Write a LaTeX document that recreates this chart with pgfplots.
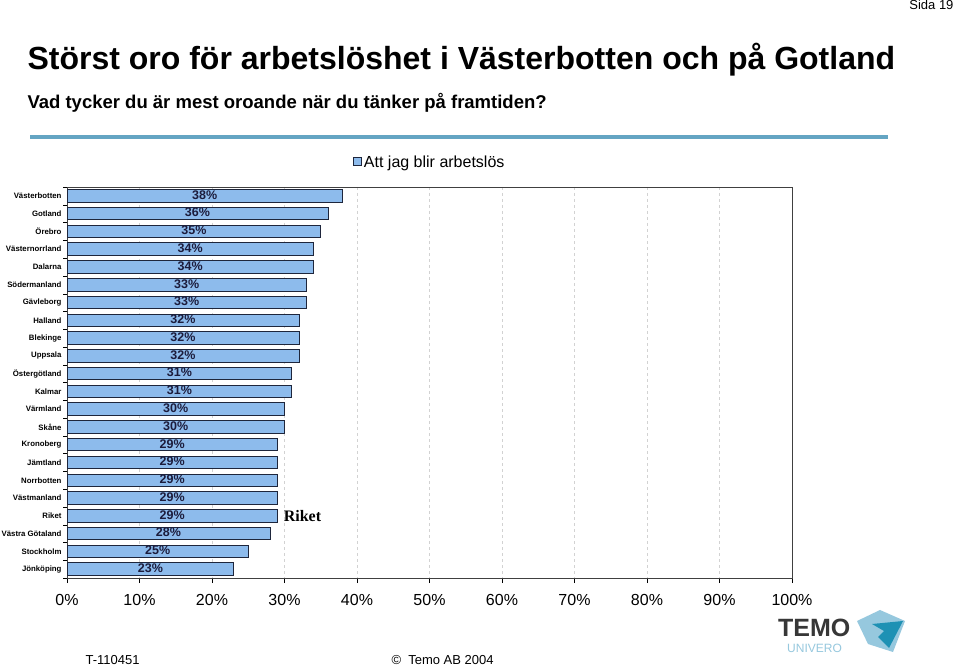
\documentclass[border=0pt]{standalone}
\usepackage{pgfplots}
\pgfplotsset{compat=1.18}
\usepackage{pgfplotstable}
\usepackage{fontspec}
\setmainfont{Liberation Sans}
\newfontfamily\serif{Liberation Serif}

\definecolor{barblue}{RGB}{141,187,236}
\definecolor{baredge}{RGB}{30,38,60}
\definecolor{labelnavy}{RGB}{28,28,60}
\definecolor{rule}{RGB}{100,165,195}
\definecolor{gridgray}{RGB}{210,210,210}
\definecolor{temogray}{RGB}{55,55,55}
\definecolor{temolight}{RGB}{150,200,222}
\definecolor{temodark}{RGB}{30,145,180}

% idx 0 = top row
\pgfplotstableread{
idx v
0  38
1  36
2  35
3  34
4  34
5  33
6  33
7  32
8  32
9  32
10 31
11 31
12 30
13 30
14 29
15 29
16 29
17 29
18 29
19 28
20 25
21 23
}\oro

\begin{document}
\begin{tikzpicture}[x=1pt,y=1pt]
\path[use as bounding box,fill=white] (0,0) rectangle (960,666);

% header
\node[anchor=east,font=\fontsize{13}{15}\selectfont] at (957,661) {Sida 19};
\node[anchor=west,font=\fontsize{32}{36}\selectfont\bfseries] at (24,606) {Störst oro för arbetslöshet i Västerbotten och på Gotland};
\node[anchor=west,font=\fontsize{18.5}{21}\selectfont\bfseries] at (24,563) {Vad tycker du är mest oroande när du tänker på framtiden?};
\draw[rule,line width=4pt] (30,529) -- (888,529);

\begin{axis}[
    at={(67pt,88pt)}, anchor=south west,
    scale only axis,
    width=725pt, height=391pt,
    xbar,
    bar width=12.5pt,
    xmin=0, xmax=100,
    ymin=-0.5, ymax=21.5,
    y dir=reverse,
    ytick={0,...,21},
    yticklabels={Västerbotten,Gotland,Örebro,Västernorrland,Dalarna,Södermanland,Gävleborg,Halland,Blekinge,Uppsala,Östergötland,Kalmar,Värmland,Skåne,Kronoberg,Jämtland,Norrbotten,Västmanland,Riket,Västra Götaland,Stockholm,Jönköping},
    yticklabel style={font=\fontsize{7.8}{10}\selectfont\bfseries, xshift=3pt},
    major y tick style={draw=none},
    minor ytick={-0.5,0.5,...,21.5},
    minor tick length=4pt,
    minor y tick style={black},
    ytick pos=left,
    xtick pos=bottom,
    xtick={0,10,...,100},
    xticklabel={\pgfmathprintnumber{\tick}\%},
    xticklabel style={font=\fontsize{16}{18}\selectfont, yshift=-8pt},
    /pgf/number format/assume math mode=true,
    tick align=outside,
    major tick length=5pt,
    x tick style={black},
    xmajorgrids,
    major x grid style={gridgray, dashed},
    axis line style={black!75},
    legend style={at={(0.39,1.064)}, anchor=west, draw=none, fill=none,
        font=\fontsize{16}{18}\selectfont},
    legend image code/.code={\draw[fill=barblue,draw=baredge] (0pt,-4pt) rectangle (8pt,4pt);},
    clip=false,
]
\addplot[fill=barblue, draw=baredge, line width=1pt] table[x=v, y=idx] {\oro};
\addlegendentry{Att jag blir arbetslös}
\addplot[draw=none, mark=none, forget plot,
    nodes near coords={\pgfmathprintnumber{\pgfplotspointmeta}\%},
    point meta=explicit,
    every node near coord/.style={anchor=center, yshift=1pt, text=labelnavy,
        font=\fontsize{12.5}{14}\selectfont\bfseries}]
    table[x expr=\thisrow{v}/2, y=idx, meta=v] {\oro};
\node[anchor=west, font=\serif\fontsize{16}{18}\selectfont\bfseries] at (axis cs:29,18) {\hspace{3pt}Riket};
\end{axis}

% footer
\node[anchor=west,font=\fontsize{13}{15}\selectfont] at (82,6) {T-110451};
\node[anchor=west,font=\fontsize{13}{15}\selectfont] at (388,6) {\textcopyright\ \ Temo AB 2004};

% logo
\node[anchor=west,font=\fontsize{25}{28}\selectfont\bfseries,text=temogray,inner sep=0pt] at (778,38) {TEMO};
\node[anchor=west,font=\fontsize{12}{14}\selectfont,text=temolight,inner sep=0pt] at (787,18) {UNIVERO};
\fill[temolight] (857,45) -- (880,56) -- (905,45) -- (893,14) -- (868,22) -- cycle;
\fill[temodark] (872,42) -- (903,45) -- (889,18) -- (878,29) -- (884,35) -- cycle;
\end{tikzpicture}
\end{document}
